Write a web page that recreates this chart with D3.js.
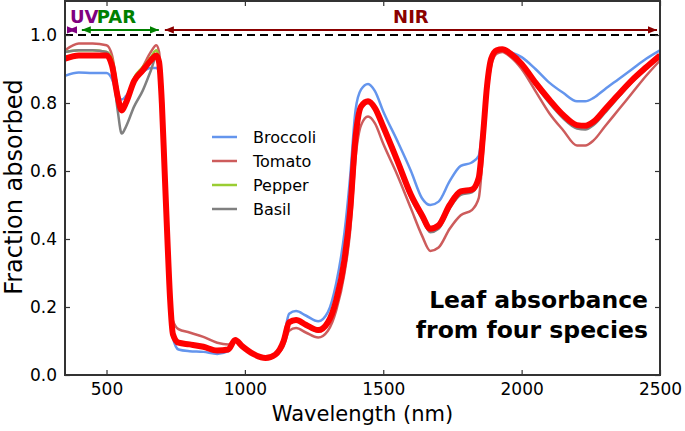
<!DOCTYPE html>
<html>
<head>
<meta charset="utf-8">
<script type="text/javascript" src="https://cdn.jsdelivr.net/npm/d3@7"></script>
<style>
  body { margin: 0; background: #fff; }
  text { font-family: "DejaVu Sans", sans-serif; }
</style>
</head>
<body>
<div id="chart"></div>
<script type="text/javascript">
// wavelength grid (nm)
var wavelengths = [350, 400, 450, 500, 520, 540, 555, 570, 600, 630,
  660, 680, 690, 700, 710, 720, 730, 740, 760, 800,
  850, 900, 940, 965, 990, 1030, 1075, 1110, 1140, 1160,
  1185, 1220, 1265, 1300, 1330, 1360, 1380, 1400, 1420, 1445,
  1470, 1500, 1550, 1600, 1640, 1670, 1700, 1740, 1780, 1820,
  1845, 1860, 1875, 1890, 1910, 1930, 1960, 2000, 2050, 2100,
  2150, 2200, 2230, 2260, 2300, 2350, 2400, 2450, 2500];

var broccoli = [0.88, 0.89, 0.888, 0.888, 0.87, 0.82, 0.81, 0.82, 0.86, 0.89,
  0.903, 0.903, 0.89, 0.78, 0.58, 0.38, 0.20, 0.11, 0.075, 0.07,
  0.068, 0.062, 0.07, 0.10, 0.083, 0.06, 0.05, 0.062, 0.11, 0.18,
  0.188, 0.175, 0.158, 0.185, 0.27, 0.42, 0.58, 0.78, 0.84, 0.856,
  0.835, 0.775, 0.69, 0.60, 0.52, 0.50, 0.51, 0.57, 0.615, 0.625,
  0.645, 0.74, 0.87, 0.935, 0.955, 0.958, 0.95, 0.935, 0.90, 0.86,
  0.83, 0.805, 0.805, 0.815, 0.84, 0.87, 0.90, 0.93, 0.955];

var tomato = [0.955, 0.975, 0.975, 0.97, 0.94, 0.84, 0.79, 0.81, 0.87, 0.905,
  0.95, 0.97, 0.95, 0.82, 0.62, 0.42, 0.25, 0.16, 0.135, 0.125,
  0.112, 0.095, 0.09, 0.10, 0.085, 0.062, 0.05, 0.058, 0.085, 0.13,
  0.138, 0.125, 0.11, 0.13, 0.19, 0.30, 0.42, 0.64, 0.735, 0.76,
  0.74, 0.68, 0.59, 0.49, 0.41, 0.365, 0.375, 0.43, 0.47, 0.485,
  0.52, 0.65, 0.82, 0.91, 0.945, 0.95, 0.935, 0.90, 0.835, 0.77,
  0.72, 0.675, 0.675, 0.69, 0.73, 0.78, 0.83, 0.88, 0.925];

var pepper = [0.95, 0.955, 0.955, 0.95, 0.93, 0.84, 0.79, 0.81, 0.875, 0.905,
  0.935, 0.955, 0.93, 0.81, 0.60, 0.40, 0.22, 0.12, 0.095, 0.09,
  0.083, 0.072, 0.075, 0.103, 0.085, 0.062, 0.05, 0.06, 0.10, 0.155,
  0.162, 0.148, 0.132, 0.155, 0.22, 0.34, 0.48, 0.70, 0.79, 0.805,
  0.785, 0.73, 0.632, 0.53, 0.47, 0.43, 0.44, 0.50, 0.54, 0.545,
  0.58, 0.70, 0.85, 0.93, 0.955, 0.958, 0.945, 0.915, 0.86, 0.81,
  0.765, 0.735, 0.733, 0.745, 0.78, 0.825, 0.868, 0.905, 0.94];

var basil = [0.95, 0.955, 0.955, 0.95, 0.91, 0.78, 0.71, 0.73, 0.79, 0.835,
  0.895, 0.935, 0.915, 0.80, 0.60, 0.40, 0.22, 0.12, 0.095, 0.088,
  0.08, 0.07, 0.073, 0.103, 0.085, 0.062, 0.05, 0.06, 0.10, 0.152,
  0.158, 0.145, 0.128, 0.15, 0.21, 0.33, 0.47, 0.69, 0.785, 0.80,
  0.78, 0.725, 0.625, 0.52, 0.46, 0.42, 0.43, 0.49, 0.53, 0.537,
  0.57, 0.69, 0.84, 0.925, 0.955, 0.958, 0.943, 0.91, 0.853, 0.80,
  0.755, 0.725, 0.722, 0.735, 0.77, 0.817, 0.862, 0.90, 0.937];

var average = [0.93, 0.94, 0.94, 0.94, 0.91, 0.82, 0.778, 0.80, 0.865, 0.895,
  0.925, 0.94, 0.92, 0.80, 0.60, 0.40, 0.22, 0.12, 0.095, 0.09,
  0.083, 0.072, 0.075, 0.103, 0.085, 0.062, 0.05, 0.06, 0.10, 0.155,
  0.162, 0.148, 0.132, 0.155, 0.22, 0.34, 0.48, 0.70, 0.79, 0.805,
  0.785, 0.73, 0.632, 0.53, 0.47, 0.43, 0.44, 0.50, 0.54, 0.545,
  0.58, 0.70, 0.85, 0.93, 0.955, 0.958, 0.945, 0.915, 0.86, 0.81,
  0.765, 0.735, 0.733, 0.745, 0.78, 0.825, 0.868, 0.905, 0.94];

var species = ["Broccoli", "Tomato", "Pepper", "Basil"];
var speciesValues = [broccoli, tomato, pepper, basil];
var speciesColors = ["#6495ed", "#cd5c5c", "#9acd32", "#808080"];

var xTicks = [500, 1000, 1500, 2000, 2500];
var yTicks = [0.0, 0.2, 0.4, 0.6, 0.8, 1.0];

// spectral bands for the annotation arrows
var bands = [
  {label: "UV", from: 350, to: 400, color: "#800080", textAt: 368, anchor: "start"},
  {label: "PAR", from: 400, to: 700, color: "#008000", textAt: 465, anchor: "start"},
  {label: "NIR", from: 700, to: 2500, color: "#8b0000", textAt: 1600, anchor: "middle"}
];

var width = 685, height = 431;
var margin = {left: 65, right: 25, top: 1, bottom: 56};

var svg = d3.select("#chart").append("svg")
  .attr("width", width)
  .attr("height", height);

var x = d3.scaleLinear().domain([350, 2500]).range([margin.left, width - margin.right]);
var y = d3.scaleLinear().domain([0, 1.1]).range([height - margin.bottom, margin.top]);

var defs = svg.append("defs");
defs.append("clipPath").attr("id", "plot")
  .append("rect")
  .attr("x", x(350)).attr("y", y(1.1))
  .attr("width", x(2500) - x(350)).attr("height", y(0) - y(1.1));

// dashed line at 1.0
svg.append("line")
  .attr("x1", x(350)).attr("x2", x(2500))
  .attr("y1", y(1.0)).attr("y2", y(1.0))
  .style("stroke", "#000")
  .style("stroke-width", 2)
  .style("stroke-dasharray", "8,5");

var line = d3.line()
  .x(function(d, i) { return x(wavelengths[i]); })
  .y(function(d) { return y(d); })
  .curve(d3.curveMonotoneX);

var plot = svg.append("g").attr("clip-path", "url(#plot)");

plot.selectAll("path.species").data(speciesValues)
  .enter().append("path")
  .attr("class", "species")
  .attr("d", line)
  .style("fill", "none")
  .style("stroke", function(d, i) { return speciesColors[i]; })
  .style("stroke-width", 2.5);

plot.append("path")
  .attr("d", line(average))
  .style("fill", "none")
  .style("stroke", "#ff0000")
  .style("stroke-width", 6)
  .style("stroke-linejoin", "round");

// frame + ticks (inward on all four sides)
var axisColor = "#333";
var xAxis = svg.append("g").attr("transform", "translate(0," + y(0) + ")")
  .call(d3.axisBottom(x).tickValues(xTicks).tickSize(-5).tickPadding(8)
    .tickFormat(d3.format("d")));
var xTop = svg.append("g").attr("transform", "translate(0," + y(1.1) + ")")
  .call(d3.axisTop(x).tickValues(xTicks).tickSize(-5).tickFormat(""));
var yAxis = svg.append("g").attr("transform", "translate(" + x(350) + ",0)")
  .call(d3.axisLeft(y).tickValues(yTicks).tickSize(-5).tickPadding(8)
    .tickFormat(d3.format(".1f")));
var yRight = svg.append("g").attr("transform", "translate(" + x(2500) + ",0)")
  .call(d3.axisRight(y).tickValues(yTicks).tickSize(-5).tickFormat(""));

[xAxis, xTop, yAxis, yRight].forEach(function(g) {
  g.select(".domain").remove();
  g.selectAll(".tick line").style("stroke", axisColor).style("stroke-width", 1.2);
  g.selectAll(".tick text").style("font-size", "17px").style("fill", "#000")
    .style("font-family", "DejaVu Sans, sans-serif");
});

svg.append("rect")
  .attr("x", x(350)).attr("y", y(1.1))
  .attr("width", x(2500) - x(350)).attr("height", y(0) - y(1.1))
  .style("fill", "none")
  .style("stroke", axisColor)
  .style("stroke-width", 2);

// axis labels
svg.append("text")
  .attr("x", (x(350) + x(2500)) / 2)
  .attr("y", 421)
  .attr("text-anchor", "middle")
  .style("font-size", "21px")
  .text("Wavelength (nm)");

svg.append("text")
  .attr("transform", "translate(22," + ((y(0) + y(1.1)) / 2 - 1) + ") rotate(-90)")
  .attr("text-anchor", "middle")
  .style("font-size", "24px")
  .text("Fraction absorbed");

// band arrows
bands.forEach(function(b) {
  var id = "head-" + b.label;
  defs.append("marker")
    .attr("id", id)
    .attr("viewBox", "0 -5 10 10")
    .attr("refX", 10).attr("refY", 0)
    .attr("markerWidth", 9).attr("markerHeight", 9)
    .attr("markerUnits", "userSpaceOnUse")
    .attr("orient", "auto-start-reverse")
    .append("path")
    .attr("d", "M0,-4L10,0L0,4Z")
    .style("fill", b.color);

  svg.append("line")
    .attr("x1", x(b.from) + 3).attr("x2", x(b.to) - 3)
    .attr("y1", y(1.015)).attr("y2", y(1.015))
    .style("stroke", b.color)
    .style("stroke-width", 2)
    .attr("marker-start", "url(#" + id + ")")
    .attr("marker-end", "url(#" + id + ")");

  svg.append("text")
    .attr("x", x(b.textAt))
    .attr("y", y(1.035))
    .attr("text-anchor", b.anchor)
    .style("font-size", "18px")
    .style("font-weight", "bold")
    .style("fill", b.color)
    .text(b.label);
});

// legend
var legend = svg.append("g").attr("transform", "translate(212,137)");
species.forEach(function(s, i) {
  var row = legend.append("g").attr("transform", "translate(0," + (i * 24) + ")");
  row.append("line")
    .attr("x1", 0).attr("x2", 25)
    .style("stroke", speciesColors[i])
    .style("stroke-width", 2.5);
  row.append("text")
    .attr("x", 41).attr("y", 6)
    .style("font-size", "16px")
    .text(s);
});

// title text
var title = svg.append("text")
  .attr("text-anchor", "end")
  .style("font-size", "23.5px")
  .style("font-weight", "bold");
title.append("tspan").attr("x", 648).attr("y", 308).text("Leaf absorbance");
title.append("tspan").attr("x", 648).attr("y", 338).text("from four species");
</script>
</body>
</html>
